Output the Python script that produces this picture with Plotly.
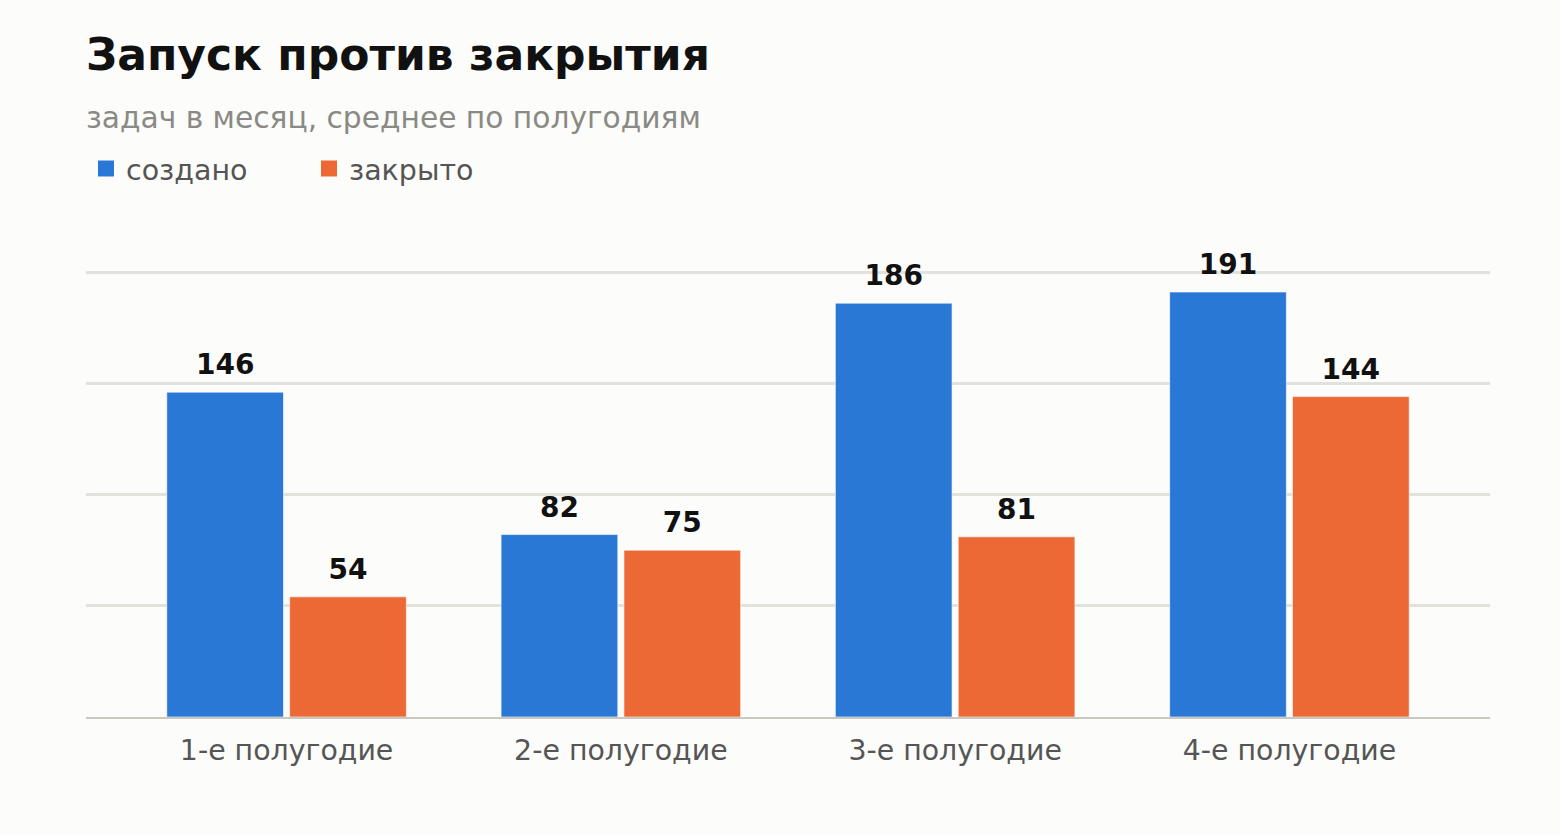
import plotly.graph_objects as go

categories = ["1-е полугодие", "2-е полугодие", "3-е полугодие", "4-е полугодие"]
created = [146, 82, 186, 191]
closed = [54, 75, 81, 144]
series_names = ["создано", "закрыто"]
colors = ["#2a78d6", "#ec6935"]
bg = "#fcfcfa"

W, H = 1560, 835
L, R, T, B = 86, 70, 268, 118
ph = H - T - B
GAP = 0.265
groups = ["g1", "g2"]

fig = go.Figure()
for name, vals, col, g in zip(series_names, [created, closed], colors, groups):
    fig.add_trace(go.Bar(
        x=categories, y=vals, name=name, showlegend=False, offsetgroup=g,
        marker=dict(color=col, line=dict(color="rgba(255,255,255,0.6)", width=1)),
        hoverinfo="skip",
    ))
for name, vals, g in zip(series_names, [created, closed], groups):
    fig.add_trace(go.Scatter(
        x=categories, y=vals, mode="markers+text", showlegend=False, offsetgroup=g,
        marker=dict(size=16, opacity=0),
        text=[str(v) for v in vals], textposition="top center", cliponaxis=False,
        textfont=dict(family="DejaVu Sans", size=28, color="#111111", weight="bold"),
        hoverinfo="skip",
    ))
for name, col, g in zip(series_names, colors, groups):
    fig.add_trace(go.Scatter(
        x=[None], y=[None], mode="markers", name=name, offsetgroup=g,
        marker=dict(symbol="square", size=18, color=col),
    ))

fig.update_layout(
    width=W, height=H,
    margin=dict(l=L, r=R, t=T, b=B, autoexpand=False),
    paper_bgcolor=bg, plot_bgcolor=bg,
    barmode="group", bargap=GAP, bargroupgap=0.05,
    scattermode="group", scattergap=GAP,
    font=dict(family="DejaVu Sans", color="#555555"),
    title=dict(
        text="<b>Запуск против закрытия</b>",
        x=L / W, xanchor="left", xref="container",
        y=1 - 55 / H, yanchor="middle", yref="container",
        font=dict(family="DejaVu Sans", size=44, color="#111111"),
    ),
    annotations=[dict(
        text="задач в месяц, среднее по полугодиям",
        xref="paper", yref="paper", x=0, xanchor="left", xshift=-2,
        y=(H - B - 117) / ph, yanchor="middle", showarrow=False,
        font=dict(family="DejaVu Sans", size=29.7, color="#8a8a84"),
    )],
    legend=dict(
        orientation="h", x=0, xanchor="left", xref="paper",
        y=(H - B - 169) / ph, yanchor="middle", yref="paper",
        font=dict(family="DejaVu Sans", size=28.5, color="#555555"),
        entrywidth=178, entrywidthmode="pixels",
        bgcolor="rgba(0,0,0,0)", itemclick=False,
    ),
    xaxis=dict(
        range=[-0.6, 3.6], showgrid=False, showline=True,
        linecolor="#c8c8c0", linewidth=2,
        tickfont=dict(family="DejaVu Sans", size=28.4, color="#555555"),
        ticks="outside", ticklen=7, tickcolor="rgba(0,0,0,0)",
    ),
    yaxis=dict(
        range=[0, 201.8], dtick=50, showticklabels=False,
        showgrid=True, gridcolor="#e2e2dc", gridwidth=2.5,
        zeroline=False,
    ),
)

fig.write_html("out.html")
